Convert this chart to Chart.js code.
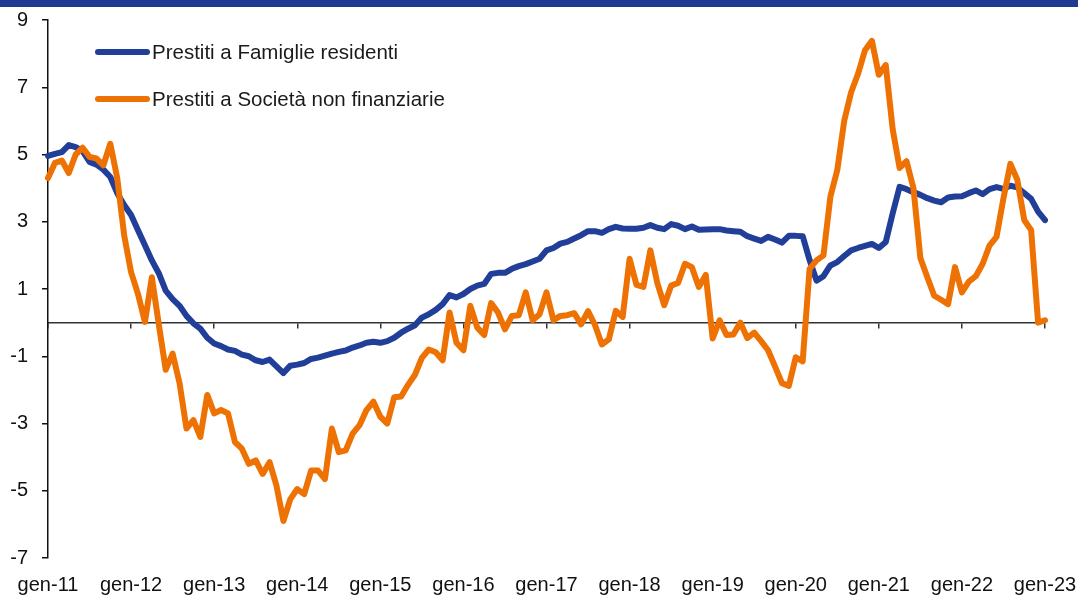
<!DOCTYPE html>
<html>
<head>
<meta charset="utf-8">
<title>Prestiti</title>
<script src="https://cdn.jsdelivr.net/npm/chart.js@4.4.0/dist/chart.umd.min.js"></script>
<style>
    html, body { margin: 0; padding: 0; background: #fff; }
    #wrap { position: relative; width: 1078px; height: 596px; }
    #topbar { position: absolute; left: 0; top: 0; width: 1078px; height: 7px; background: #1f3b91; }
    canvas { position: absolute; left: 0; top: 0; }
</style>
</head>
<body>
<div id="wrap">
    <canvas id="chart" width="1078" height="596"></canvas>
    <div id="topbar"></div>
</div>
<script>
// Monthly data, gen-11 .. gen-23
const monthNames = ['gen', 'feb', 'mar', 'apr', 'mag', 'giu', 'lug', 'ago', 'set', 'ott', 'nov', 'dic'];
const years = ['11', '12', '13', '14', '15', '16', '17', '18', '19', '20', '21', '22', '23'];
const yTicks = [-7, -5, -3, -1, 1, 3, 5, 7, 9];

const famiglie = [
    4.96, 5.02, 5.07, 5.28, 5.22, 5.10, 4.78, 4.70, 4.55, 4.33, 3.85, 3.50,
    3.20, 2.75, 2.30, 1.85, 1.47, 0.95, 0.70, 0.50, 0.20, -0.02, -0.18, -0.45,
    -0.62, -0.70, -0.80, -0.84, -0.95, -1.00, -1.12, -1.17, -1.10, -1.30, -1.50, -1.28,
    -1.25, -1.20, -1.08, -1.04, -0.98, -0.92, -0.87, -0.83, -0.74, -0.68, -0.60, -0.57,
    -0.60, -0.55, -0.45, -0.30, -0.18, -0.08, 0.15, 0.25, 0.38, 0.55, 0.82, 0.75,
    0.85, 1.00, 1.10, 1.15, 1.45, 1.48, 1.48, 1.60, 1.68, 1.74, 1.82, 1.90,
    2.15, 2.22, 2.35, 2.40, 2.50, 2.60, 2.72, 2.72, 2.67, 2.78, 2.85, 2.80,
    2.79, 2.79, 2.82, 2.90, 2.82, 2.78, 2.93, 2.88, 2.78, 2.86, 2.76, 2.77,
    2.78, 2.78, 2.74, 2.72, 2.70, 2.57, 2.50, 2.43, 2.55, 2.47, 2.38, 2.58,
    2.58, 2.57, 1.86, 1.25, 1.38, 1.70, 1.80, 1.98, 2.15, 2.22, 2.28, 2.34,
    2.22, 2.40, 3.25, 4.04, 3.97, 3.88, 3.80, 3.70, 3.63, 3.58, 3.72, 3.75,
    3.76, 3.85, 3.93, 3.82, 3.97, 4.03, 3.98, 4.07, 4.02, 3.85, 3.68, 3.30,
    3.05
];

const societa = [
    4.30, 4.75, 4.82, 4.45, 5.00, 5.20, 4.93, 4.88, 4.68, 5.32, 4.30, 2.60,
    1.50, 0.85, 0.02, 1.35, -0.05, -1.40, -0.92, -1.80, -3.15, -2.90, -3.40, -2.15,
    -2.70, -2.60, -2.70, -3.55, -3.75, -4.20, -4.10, -4.50, -4.15, -4.85, -5.90, -5.25,
    -4.95, -5.10, -4.40, -4.40, -4.65, -3.15, -3.85, -3.80, -3.30, -3.05, -2.60, -2.35,
    -2.80, -3.00, -2.22, -2.20, -1.85, -1.55, -1.05, -0.80, -0.88, -1.12, 0.30, -0.60,
    -0.82, 0.50, -0.15, -0.37, 0.58, 0.30, -0.20, 0.20, 0.22, 0.90, 0.07, 0.25,
    0.90, 0.07, 0.20, 0.22, 0.28, -0.05, 0.34, -0.07, -0.65, -0.50, 0.35, 0.17,
    1.90, 1.12, 1.06, 2.15, 1.18, 0.52, 1.10, 1.18, 1.75, 1.65, 1.06, 1.42,
    -0.47, 0.07, -0.37, -0.35, 0.00, -0.46, -0.30, -0.55, -0.82, -1.30, -1.80, -1.88,
    -1.03, -1.15, 1.60, 1.85, 2.00, 3.74, 4.54, 6.00, 6.85, 7.40, 8.10, 8.38,
    7.37, 7.66, 5.75, 4.60, 4.80, 4.00, 1.92, 1.35, 0.80, 0.68, 0.55, 1.65,
    0.90, 1.22, 1.38, 1.75, 2.30, 2.55, 3.70, 4.72, 4.25, 3.05, 2.75, 0.00,
    0.07
];

const labels = [];
years.forEach(y => monthNames.forEach(m => labels.push(`${m}-${y}`)));
labels.length = famiglie.length;

const FONT = '"Liberation Sans", Arial, sans-serif';
const BLUE = '#213f98';
const ORANGE = '#ee7203';

// keep only January ticks
function yearTicks(scale) {
    scale.ticks = scale.ticks.filter(t => t.value % 12 === 0);
}

// no automatic label overhang padding, layout padding decides the plot box
function noPadding(scale) {
    scale.paddingTop = 0;
    scale.paddingBottom = 0;
    scale.paddingLeft = 0;
    scale.paddingRight = 0;
}

// Legend drawn inside the plot, top-left
const insideLegend = {
    id: 'insideLegend',
    afterDraw(chart) {
        const ctx = chart.ctx;
        ctx.save();
        chart.data.datasets.forEach((ds, i) => {
            const y = 52 + i * 47;
            ctx.strokeStyle = ds.borderColor;
            ctx.lineWidth = 6;
            ctx.lineCap = 'round';
            ctx.beginPath();
            ctx.moveTo(98, y);
            ctx.lineTo(147, y);
            ctx.stroke();
            ctx.fillStyle = '#1a1a1a';
            ctx.font = '20.5px ' + FONT;
            ctx.textBaseline = 'middle';
            ctx.fillText(ds.label, 152, y + 1);
        });
        ctx.restore();
    }
};

const ctx = document.getElementById('chart').getContext('2d');
new Chart(ctx, {
    type: 'line',
    data: {
        labels: labels,
        datasets: [
            {
                label: 'Prestiti a Famiglie residenti',
                data: famiglie,
                borderColor: BLUE,
                xAxisID: 'x',
                yAxisID: 'y',
                order: 2
            },
            {
                label: 'Prestiti a Società non finanziarie',
                data: societa,
                borderColor: ORANGE,
                xAxisID: 'x',
                yAxisID: 'y',
                order: 1
            }
        ]
    },
    options: {
        responsive: false,
        animation: false,
        layout: { padding: { top: 20, right: 33, bottom: 0, left: 0 } },
        elements: {
            point: { radius: 0 },
            line: { tension: 0, borderWidth: 6, borderJoinStyle: 'round', borderCapStyle: 'round' }
        },
        plugins: {
            legend: { display: false },
            tooltip: { enabled: false }
        },
        scales: {
            x: {
                type: 'category',
                position: 'bottom',
                offset: false,
                grid: { display: false, drawTicks: false },
                border: { display: false },
                ticks: {
                    autoSkip: false,
                    maxRotation: 0,
                    padding: 15,
                    color: '#111',
                    font: { size: 20, family: FONT }
                },
                afterBuildTicks: yearTicks,
                afterFit: scale => {
                    noPadding(scale);
                    scale.height = 38;
                }
            },
            zero: {
                type: 'category',
                axis: 'x',
                position: { y: 0 },
                offset: false,
                grid: { drawOnChartArea: false, drawTicks: true, tickLength: 5, color: '#333', lineWidth: 1.5 },
                border: { display: true, color: '#333', width: 1.5 },
                ticks: { display: false },
                afterBuildTicks: yearTicks,
                afterFit: noPadding
            },
            y: {
                min: -7,
                max: 9,
                grid: { drawOnChartArea: false, drawTicks: true, tickLength: 6, color: '#111', lineWidth: 1.5 },
                border: { display: true, color: '#111', width: 1.5 },
                ticks: {
                    padding: 14,
                    color: '#111',
                    font: { size: 20, family: FONT }
                },
                afterBuildTicks: scale => {
                    scale.ticks = yTicks.map(v => ({ value: v }));
                },
                afterFit: scale => {
                    noPadding(scale);
                    scale.width = 48;
                }
            }
        }
    },
    plugins: [insideLegend]
});
</script>
</body>
</html>
